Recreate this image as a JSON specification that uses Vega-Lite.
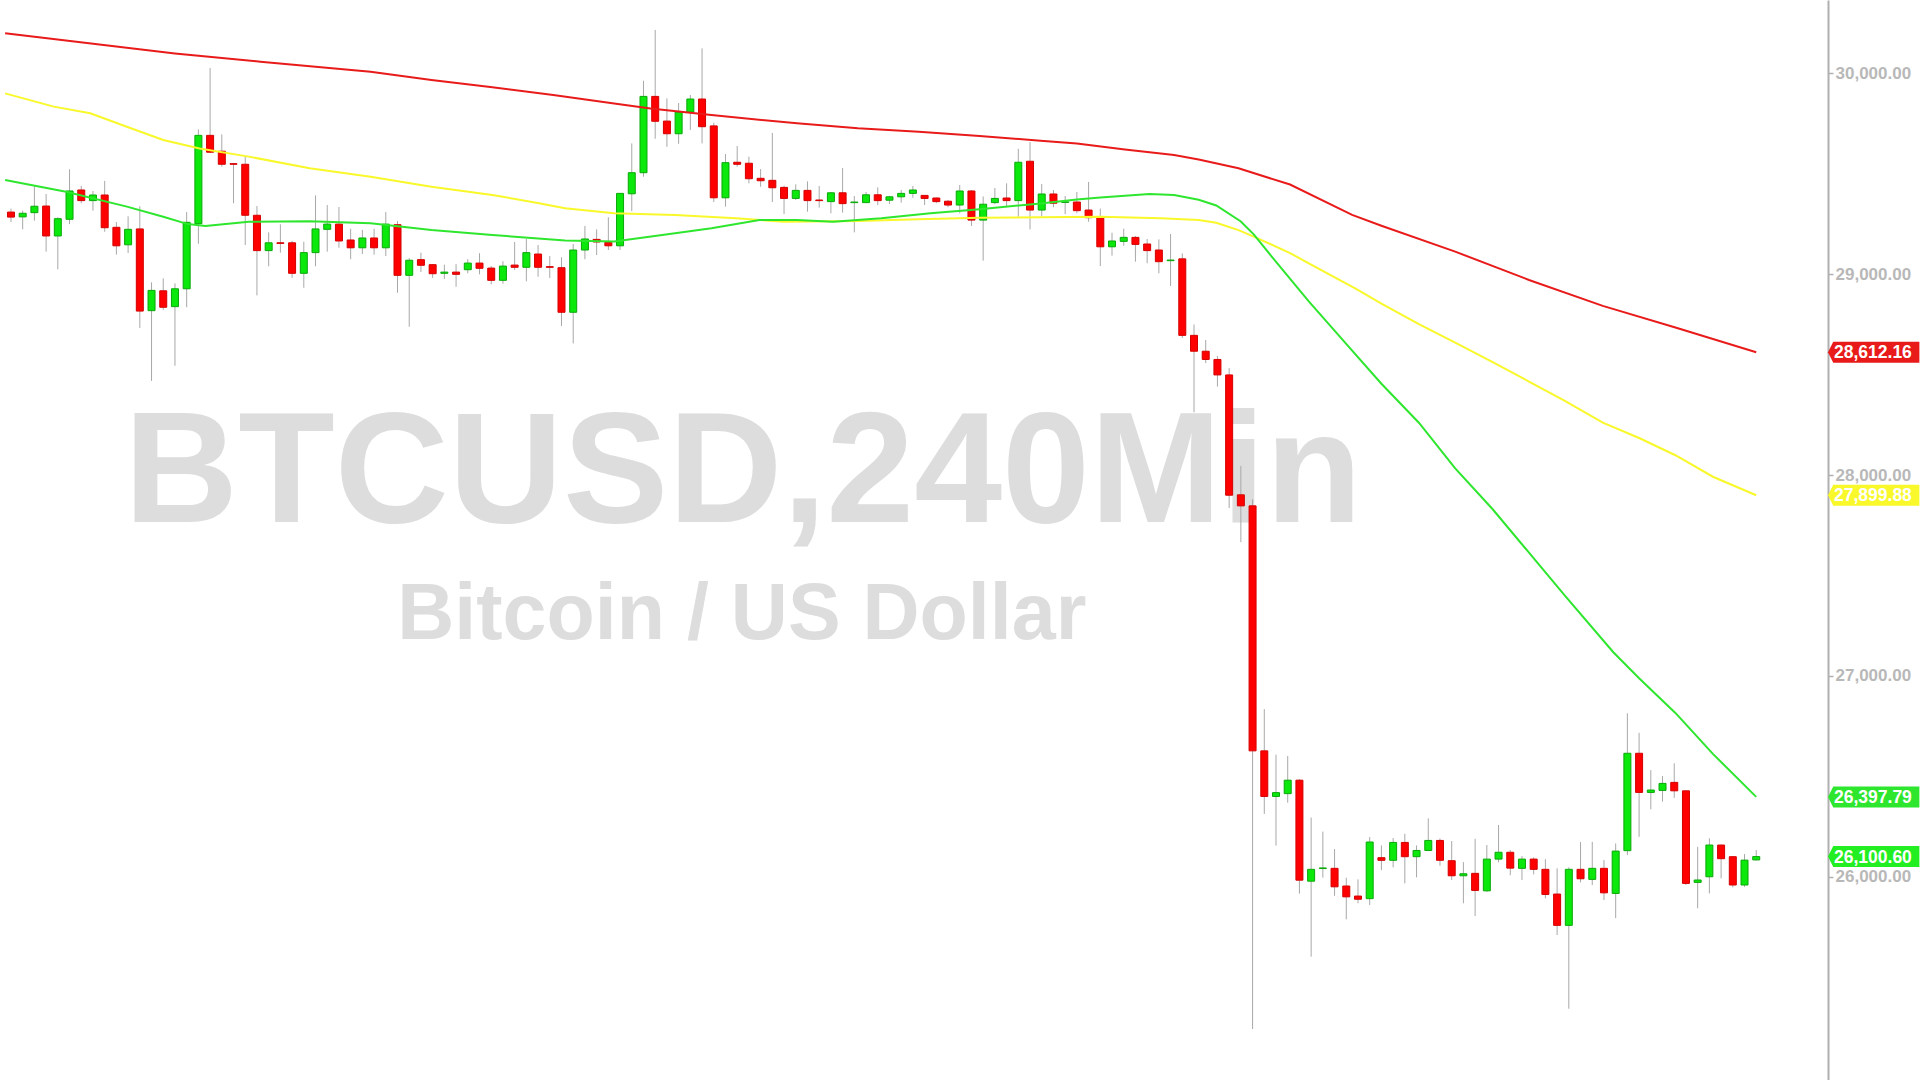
{
"$schema": "https://vega.github.io/schema/vega-lite/v6.json",
"width": 1828, "height": 1080,
"autosize": {"type": "none"},
"padding": {"left": 0, "top": 0, "right": 92, "bottom": 0},
"background": "#ffffff",
"config": {"view": {"stroke": null}, "font": "Liberation Sans",
"axisY": {"orient": "right", "title": null, "grid": false, "labelColor": "#b8b8b8", "labelFont": "Liberation Sans", "labelFontWeight": "bold", "labelFontSize": 17, "labelPadding": 2, "tickColor": "#b0b0b0", "tickSize": 5, "tickWidth": 1.5, "domainColor": "#b0b0b0", "domainWidth": 2}},
"datasets": {
"candles": [
{"t":0,"o":29310,"h":29327,"l":29260,"c":29285},{"t":1,"o":29286,"h":29317,"l":29224,"c":29304},{"t":2,"o":29307,"h":29440,"l":29267,"c":29339},{"t":3,"o":29340,"h":29400,"l":29113,"c":29191},{"t":4,"o":29191,"h":29284,"l":29025,"c":29277},{"t":5,"o":29274,"h":29523,"l":29250,"c":29415},{"t":6,"o":29420,"h":29440,"l":29354,"c":29367},{"t":7,"o":29367,"h":29415,"l":29317,"c":29395},{"t":8,"o":29395,"h":29465,"l":29212,"c":29232},{"t":9,"o":29234,"h":29260,"l":29098,"c":29142},
{"t":10,"o":29147,"h":29289,"l":29106,"c":29224},{"t":11,"o":29226,"h":29339,"l":28733,"c":28817},{"t":12,"o":28819,"h":28960,"l":28469,"c":28920},{"t":13,"o":28918,"h":28980,"l":28822,"c":28836},{"t":14,"o":28839,"h":28955,"l":28545,"c":28928},{"t":15,"o":28928,"h":29310,"l":28836,"c":29259},{"t":16,"o":29252,"h":29722,"l":29152,"c":29692},{"t":17,"o":29692,"h":30027,"l":29604,"c":29608},{"t":18,"o":29613,"h":29697,"l":29536,"c":29548},{"t":19,"o":29551,"h":29552,"l":29354,"c":29548},
{"t":20,"o":29548,"h":29589,"l":29146,"c":29294},{"t":21,"o":29294,"h":29340,"l":28895,"c":29118},{"t":22,"o":29118,"h":29209,"l":29040,"c":29157},{"t":23,"o":29157,"h":29249,"l":29108,"c":29154},{"t":24,"o":29157,"h":29167,"l":28982,"c":29005},{"t":25,"o":29005,"h":29162,"l":28933,"c":29108},{"t":26,"o":29108,"h":29393,"l":29040,"c":29226},{"t":27,"o":29224,"h":29345,"l":29113,"c":29250},{"t":28,"o":29250,"h":29335,"l":29132,"c":29166},{"t":29,"o":29171,"h":29227,"l":29075,"c":29132},
{"t":30,"o":29132,"h":29221,"l":29101,"c":29181},{"t":31,"o":29181,"h":29227,"l":29098,"c":29132},{"t":32,"o":29132,"h":29310,"l":29091,"c":29250},{"t":33,"o":29247,"h":29265,"l":28908,"c":28995},{"t":34,"o":28995,"h":29081,"l":28739,"c":29070},{"t":35,"o":29073,"h":29108,"l":29011,"c":29045},{"t":36,"o":29048,"h":29050,"l":28982,"c":29003},{"t":37,"o":29005,"h":29048,"l":28977,"c":29011},{"t":38,"o":29011,"h":29051,"l":28938,"c":29000},{"t":39,"o":29023,"h":29075,"l":29005,"c":29056},
{"t":40,"o":29056,"h":29105,"l":29000,"c":29030},{"t":41,"o":29031,"h":29041,"l":28950,"c":28970},{"t":42,"o":28970,"h":29065,"l":28953,"c":29041},{"t":43,"o":29046,"h":29161,"l":29021,"c":29035},{"t":44,"o":29035,"h":29176,"l":28965,"c":29108},{"t":45,"o":29101,"h":29146,"l":28988,"c":29035},{"t":46,"o":29038,"h":29091,"l":28982,"c":29035},{"t":47,"o":29033,"h":29085,"l":28743,"c":28811},{"t":48,"o":28811,"h":29151,"l":28656,"c":29121},{"t":49,"o":29121,"h":29241,"l":29075,"c":29176},
{"t":50,"o":29174,"h":29224,"l":29096,"c":29161},{"t":51,"o":29159,"h":29284,"l":29121,"c":29142},{"t":52,"o":29142,"h":29405,"l":29121,"c":29403},{"t":53,"o":29401,"h":29652,"l":29315,"c":29506},{"t":54,"o":29506,"h":29964,"l":29486,"c":29886},{"t":55,"o":29886,"h":30217,"l":29675,"c":29762},{"t":56,"o":29763,"h":29876,"l":29635,"c":29700},{"t":57,"o":29700,"h":29853,"l":29650,"c":29808},{"t":58,"o":29808,"h":29893,"l":29719,"c":29873},{"t":59,"o":29873,"h":30125,"l":29652,"c":29735},
{"t":60,"o":29739,"h":29755,"l":29360,"c":29381},{"t":61,"o":29381,"h":29599,"l":29337,"c":29556},{"t":62,"o":29558,"h":29639,"l":29536,"c":29548},{"t":63,"o":29553,"h":29586,"l":29453,"c":29476},{"t":64,"o":29478,"h":29524,"l":29436,"c":29466},{"t":65,"o":29468,"h":29704,"l":29360,"c":29431},{"t":66,"o":29433,"h":29441,"l":29300,"c":29378},{"t":67,"o":29378,"h":29448,"l":29370,"c":29418},{"t":68,"o":29418,"h":29463,"l":29312,"c":29367},{"t":69,"o":29370,"h":29440,"l":29332,"c":29367},
{"t":70,"o":29362,"h":29410,"l":29304,"c":29406},{"t":71,"o":29406,"h":29529,"l":29307,"c":29352},{"t":72,"o":29357,"h":29390,"l":29209,"c":29360},{"t":73,"o":29357,"h":29410,"l":29355,"c":29396},{"t":74,"o":29396,"h":29433,"l":29345,"c":29367},{"t":75,"o":29369,"h":29391,"l":29350,"c":29386},{"t":76,"o":29386,"h":29420,"l":29357,"c":29403},{"t":77,"o":29403,"h":29440,"l":29381,"c":29420},{"t":78,"o":29393,"h":29395,"l":29345,"c":29378},{"t":79,"o":29380,"h":29383,"l":29354,"c":29362},
{"t":80,"o":29364,"h":29370,"l":29334,"c":29345},{"t":81,"o":29345,"h":29445,"l":29304,"c":29415},{"t":82,"o":29415,"h":29420,"l":29241,"c":29270},{"t":83,"o":29270,"h":29388,"l":29068,"c":29349},{"t":84,"o":29357,"h":29430,"l":29349,"c":29378},{"t":85,"o":29380,"h":29453,"l":29337,"c":29367},{"t":86,"o":29367,"h":29625,"l":29287,"c":29558},{"t":87,"o":29563,"h":29659,"l":29224,"c":29320},{"t":88,"o":29320,"h":29450,"l":29290,"c":29400},{"t":89,"o":29400,"h":29420,"l":29334,"c":29354},
{"t":90,"o":29358,"h":29390,"l":29300,"c":29361},{"t":91,"o":29360,"h":29410,"l":29304,"c":29317},{"t":92,"o":29320,"h":29460,"l":29262,"c":29282},{"t":93,"o":29287,"h":29327,"l":29041,"c":29137},{"t":94,"o":29137,"h":29207,"l":29093,"c":29166},{"t":95,"o":29164,"h":29227,"l":29142,"c":29184},{"t":96,"o":29184,"h":29191,"l":29063,"c":29149},{"t":97,"o":29151,"h":29176,"l":29055,"c":29118},{"t":98,"o":29121,"h":29174,"l":29005,"c":29063},{"t":99,"o":29068,"h":29201,"l":28942,"c":29071},
{"t":100,"o":29077,"h":29104,"l":28683,"c":28696},{"t":101,"o":28696,"h":28750,"l":28313,"c":28617},{"t":102,"o":28617,"h":28673,"l":28558,"c":28576},{"t":103,"o":28576,"h":28593,"l":28441,"c":28499},{"t":104,"o":28499,"h":28533,"l":27836,"c":27900},{"t":105,"o":27902,"h":28046,"l":27666,"c":27847},{"t":106,"o":27847,"h":27879,"l":25242,"c":26627},{"t":107,"o":26627,"h":26835,"l":26313,"c":26400},{"t":108,"o":26400,"h":26608,"l":26155,"c":26419},{"t":109,"o":26414,"h":26601,"l":26369,"c":26481},
{"t":110,"o":26481,"h":26486,"l":25916,"c":25983},{"t":111,"o":25978,"h":26295,"l":25602,"c":26037},{"t":112,"o":26041,"h":26225,"l":25996,"c":26044},{"t":113,"o":26042,"h":26138,"l":25905,"c":25950},{"t":114,"o":25954,"h":25995,"l":25788,"c":25900},{"t":115,"o":25904,"h":25987,"l":25868,"c":25888},{"t":116,"o":25891,"h":26198,"l":25859,"c":26173},{"t":117,"o":26095,"h":26156,"l":26033,"c":26082},{"t":118,"o":26082,"h":26193,"l":26047,"c":26171},{"t":119,"o":26171,"h":26214,"l":25967,"c":26100},
{"t":120,"o":26100,"h":26156,"l":25997,"c":26131},{"t":121,"o":26131,"h":26291,"l":26128,"c":26181},{"t":122,"o":26181,"h":26191,"l":26055,"c":26082},{"t":123,"o":26080,"h":26178,"l":25984,"c":26005},{"t":124,"o":26005,"h":26073,"l":25868,"c":26015},{"t":125,"o":26017,"h":26189,"l":25804,"c":25932},{"t":126,"o":25930,"h":26158,"l":25925,"c":26088},{"t":127,"o":26088,"h":26258,"l":26072,"c":26122},{"t":128,"o":26122,"h":26133,"l":26008,"c":26043},{"t":129,"o":26042,"h":26103,"l":25984,"c":26088},
{"t":130,"o":26088,"h":26097,"l":26012,"c":26037},{"t":131,"o":26037,"h":26088,"l":25893,"c":25912},{"t":132,"o":25914,"h":26042,"l":25710,"c":25758},{"t":133,"o":25758,"h":26047,"l":25343,"c":26037},{"t":134,"o":26037,"h":26173,"l":25972,"c":25990},{"t":135,"o":25987,"h":26174,"l":25959,"c":26042},{"t":136,"o":26042,"h":26083,"l":25884,"c":25920},{"t":137,"o":25917,"h":26166,"l":25794,"c":26128},{"t":138,"o":26130,"h":26814,"l":26108,"c":26615},{"t":139,"o":26615,"h":26717,"l":26199,"c":26420},
{"t":140,"o":26420,"h":26531,"l":26336,"c":26432},{"t":141,"o":26430,"h":26502,"l":26374,"c":26465},{"t":142,"o":26470,"h":26565,"l":26393,"c":26428},{"t":143,"o":26428,"h":26430,"l":25959,"c":25967},{"t":144,"o":25972,"h":26149,"l":25843,"c":25984},{"t":145,"o":26000,"h":26191,"l":25917,"c":26158},{"t":146,"o":26158,"h":26160,"l":25992,"c":26090},{"t":147,"o":26100,"h":26103,"l":25947,"c":25959},{"t":148,"o":25959,"h":26113,"l":25950,"c":26083},{"t":149,"o":26084,"h":26133,"l":26080,"c":26100.6}
],
"ma": [
{"m":"ma200","t":-0.5,"p":30200},{"m":"ma200","t":14,"p":30100},{"m":"ma200","t":21.3,"p":30059},{"m":"ma200","t":30.7,"p":30009},{"m":"ma200","t":35.9,"p":29968},{"m":"ma200","t":41.1,"p":29931},{"m":"ma200","t":46.3,"p":29893},{"m":"ma200","t":51.5,"p":29851},{"m":"ma200","t":54.6,"p":29826},{"m":"ma200","t":59.8,"p":29793},{"m":"ma200","t":67.1,"p":29752},{"m":"ma200","t":72.3,"p":29727},{"m":"ma200","t":77.5,"p":29710},{"m":"ma200","t":82.7,"p":29689},{"m":"ma200","t":87.9,"p":29665},{"m":"ma200","t":91,"p":29652},{"m":"ma200","t":95.1,"p":29622},{"m":"ma200","t":99.3,"p":29594},{"m":"ma200","t":101.4,"p":29572},{"m":"ma200","t":104.8,"p":29528},{"m":"ma200","t":109.2,"p":29447},{"m":"ma200","t":114.5,"p":29296},{"m":"ma200","t":117,"p":29242},{"m":"ma200","t":123.3,"p":29113},{"m":"ma200","t":129.6,"p":28972},{"m":"ma200","t":135.9,"p":28843},{"m":"ma200","t":142.1,"p":28735},{"m":"ma200","t":149,"p":28612.16},
{"m":"ma100","t":-0.5,"p":29901},{"m":"ma100","t":3.65,"p":29835},{"m":"ma100","t":6.77,"p":29802},{"m":"ma100","t":9.89,"p":29735},{"m":"ma100","t":13,"p":29669},{"m":"ma100","t":16.1,"p":29627},{"m":"ma100","t":20.3,"p":29586},{"m":"ma100","t":25.5,"p":29528},{"m":"ma100","t":30.7,"p":29486},{"m":"ma100","t":35.9,"p":29436},{"m":"ma100","t":41.1,"p":29395},{"m":"ma100","t":45.2,"p":29353},{"m":"ma100","t":47.3,"p":29329},{"m":"ma100","t":51.5,"p":29304},{"m":"ma100","t":56.7,"p":29295},{"m":"ma100","t":61.9,"p":29279},{"m":"ma100","t":66,"p":29262},{"m":"ma100","t":72.3,"p":29265},{"m":"ma100","t":77.5,"p":29274},{"m":"ma100","t":82.7,"p":29282},{"m":"ma100","t":87.9,"p":29284},{"m":"ma100","t":93,"p":29287},{"m":"ma100","t":98.2,"p":29279},{"m":"ma100","t":101.4,"p":29270},{"m":"ma100","t":102.9,"p":29257},{"m":"ma100","t":104.8,"p":29220},{"m":"ma100","t":106.1,"p":29188},{"m":"ma100","t":109.2,"p":29106},{"m":"ma100","t":110.8,"p":29054},{"m":"ma100","t":114.8,"p":28929},{"m":"ma100","t":117,"p":28854},{"m":"ma100","t":120.2,"p":28752},{"m":"ma100","t":123.3,"p":28660},{"m":"ma100","t":126.5,"p":28563},{"m":"ma100","t":129.6,"p":28466},{"m":"ma100","t":132.7,"p":28369},{"m":"ma100","t":135.9,"p":28261},{"m":"ma100","t":139,"p":28185},{"m":"ma100","t":142.1,"p":28099},{"m":"ma100","t":145.3,"p":27992},{"m":"ma100","t":149,"p":27899.88},
{"m":"ma50","t":-0.5,"p":29470},{"m":"ma50","t":4.7,"p":29411},{"m":"ma50","t":9.9,"p":29337},{"m":"ma50","t":13,"p":29287},{"m":"ma50","t":15.1,"p":29250},{"m":"ma50","t":16.6,"p":29241},{"m":"ma50","t":20.3,"p":29262},{"m":"ma50","t":25.5,"p":29264},{"m":"ma50","t":30.7,"p":29254},{"m":"ma50","t":35.9,"p":29221},{"m":"ma50","t":41.1,"p":29196},{"m":"ma50","t":47.3,"p":29168},{"m":"ma50","t":51.5,"p":29163},{"m":"ma50","t":55.6,"p":29196},{"m":"ma50","t":59.8,"p":29229},{"m":"ma50","t":63.9,"p":29270},{"m":"ma50","t":67.1,"p":29270},{"m":"ma50","t":70.2,"p":29262},{"m":"ma50","t":74.3,"p":29279},{"m":"ma50","t":78.5,"p":29304},{"m":"ma50","t":82.7,"p":29324},{"m":"ma50","t":87.9,"p":29353},{"m":"ma50","t":91,"p":29373},{"m":"ma50","t":93,"p":29383},{"m":"ma50","t":97.2,"p":29400},{"m":"ma50","t":99.3,"p":29395},{"m":"ma50","t":101.4,"p":29371},{"m":"ma50","t":102.9,"p":29343},{"m":"ma50","t":105,"p":29263},{"m":"ma50","t":106.1,"p":29199},{"m":"ma50","t":107.6,"p":29091},{"m":"ma50","t":110.8,"p":28865},{"m":"ma50","t":113.9,"p":28660},{"m":"ma50","t":117,"p":28455},{"m":"ma50","t":120.2,"p":28261},{"m":"ma50","t":123.3,"p":28034},{"m":"ma50","t":126.5,"p":27830},{"m":"ma50","t":129.6,"p":27614},{"m":"ma50","t":132.7,"p":27398},{"m":"ma50","t":136.8,"p":27118},{"m":"ma50","t":139,"p":26989},{"m":"ma50","t":142.1,"p":26816},{"m":"ma50","t":145.3,"p":26612},{"m":"ma50","t":149,"p":26397.79}
],
"tags": [
{"m":"ma200","p":28612.16},{"m":"ma100","p":27899.88},{"m":"ma50","p":26397.79},{"m":"last","p":26100.60}
]
},
"layer": [
{
"data": {"values": [{"label": "BTCUSD,240Min", "t": 62.5, "p": 27765}]},
"mark": {"type": "text", "font": "Liberation Sans", "fontWeight": "bold", "fontSize": 158, "color": "#dddddd", "align": "center", "baseline": "alphabetic"},
"encoding": {
"x": {"field": "t", "type": "quantitative", "scale": {"domain": [-0.51, 154.7], "nice": false, "zero": false}, "axis": null},
"y": {"field": "p", "type": "quantitative", "scale": {"domain": [24988, 30366], "nice": false, "zero": false}, "title": null, "axis": {"values": [26000, 27000, 28000, 29000, 30000], "format": ",.2f"}},
"text": {"field": "label"}
}
},
{
"data": {"values": [{"label": "Bitcoin / US Dollar", "t": 62.4, "p": 27186}]},
"mark": {"type": "text", "font": "Liberation Sans", "fontWeight": "bold", "fontSize": 79, "color": "#dddddd", "align": "center", "baseline": "alphabetic"},
"encoding": {
"x": {"field": "t", "type": "quantitative", "scale": {"domain": [-0.51, 154.7], "nice": false, "zero": false}, "axis": null},
"y": {"field": "p", "type": "quantitative", "scale": {"domain": [24988, 30366], "nice": false, "zero": false}, "title": null, "axis": {"values": [26000, 27000, 28000, 29000, 30000], "format": ",.2f"}},
"text": {"field": "label"}
}
},
{
"data": {"name": "candles"},
"mark": {"type": "rule", "color": "#a8a8a8", "strokeWidth": 1},
"encoding": {
"x": {"field": "t", "type": "quantitative", "scale": {"domain": [-0.51, 154.7], "nice": false, "zero": false}, "axis": null},
"y": {"field": "l", "type": "quantitative", "scale": {"domain": [24988, 30366], "nice": false, "zero": false}, "title": null, "axis": {"values": [26000, 27000, 28000, 29000, 30000], "format": ",.2f"}},
"y2": {"field": "h"}
}
},
{
"data": {"name": "candles"},
"mark": {"type": "bar", "width": 7, "strokeWidth": 1},
"encoding": {
"x": {"field": "t", "type": "quantitative", "scale": {"domain": [-0.51, 154.7], "nice": false, "zero": false}, "axis": null},
"y": {"field": "o", "type": "quantitative", "scale": {"domain": [24988, 30366], "nice": false, "zero": false}, "title": null, "axis": {"values": [26000, 27000, 28000, 29000, 30000], "format": ",.2f"}},
"y2": {"field": "c"},
"fill": {"condition": {"test": "datum.c >= datum.o", "value": "#0be80b"}, "value": "#ff0000"},
"stroke": {"condition": {"test": "datum.c >= datum.o", "value": "#0aa80a"}, "value": "#d40000"}
}
},
{
"data": {"name": "ma"},
"mark": {"type": "line", "strokeWidth": 2, "interpolate": "linear"},
"encoding": {
"x": {"field": "t", "type": "quantitative", "scale": {"domain": [-0.51, 154.7], "nice": false, "zero": false}, "axis": null},
"y": {"field": "p", "type": "quantitative", "scale": {"domain": [24988, 30366], "nice": false, "zero": false}, "title": null, "axis": {"values": [26000, 27000, 28000, 29000, 30000], "format": ",.2f"}},
"color": {"field": "m", "type": "nominal", "scale": {"domain": ["ma200", "ma100", "ma50", "last"], "range": ["#e81a1a", "#f8f82a", "#2ee62e", "#22ee22"]}, "legend": null}
}
},
{
"data": {"name": "tags"},
"mark": {"type": "point", "shape": "M0,0L0.5,-1L8.7,-1L8.7,1L0.5,1Z", "size": 441, "filled": true, "opacity": 1, "strokeWidth": 0},
"encoding": {
"x": {"value": "width"},
"y": {"field": "p", "type": "quantitative", "scale": {"domain": [24988, 30366], "nice": false, "zero": false}, "title": null, "axis": {"values": [26000, 27000, 28000, 29000, 30000], "format": ",.2f"}},
"color": {"field": "m", "type": "nominal", "scale": {"domain": ["ma200", "ma100", "ma50", "last"], "range": ["#f21c1c", "#ffff26", "#22ee22", "#22ee22"]}, "legend": null}
}
},
{
"data": {"name": "tags"},
"mark": {"type": "text", "align": "left", "baseline": "middle", "dx": 6, "dy": 1, "font": "Liberation Sans", "fontWeight": "bold", "fontSize": 17.5, "color": "#ffffff"},
"encoding": {
"x": {"value": "width"},
"y": {"field": "p", "type": "quantitative", "scale": {"domain": [24988, 30366], "nice": false, "zero": false}, "title": null, "axis": {"values": [26000, 27000, 28000, 29000, 30000], "format": ",.2f"}},
"text": {"field": "p", "type": "quantitative", "format": ",.2f"}
}
}
]
}
